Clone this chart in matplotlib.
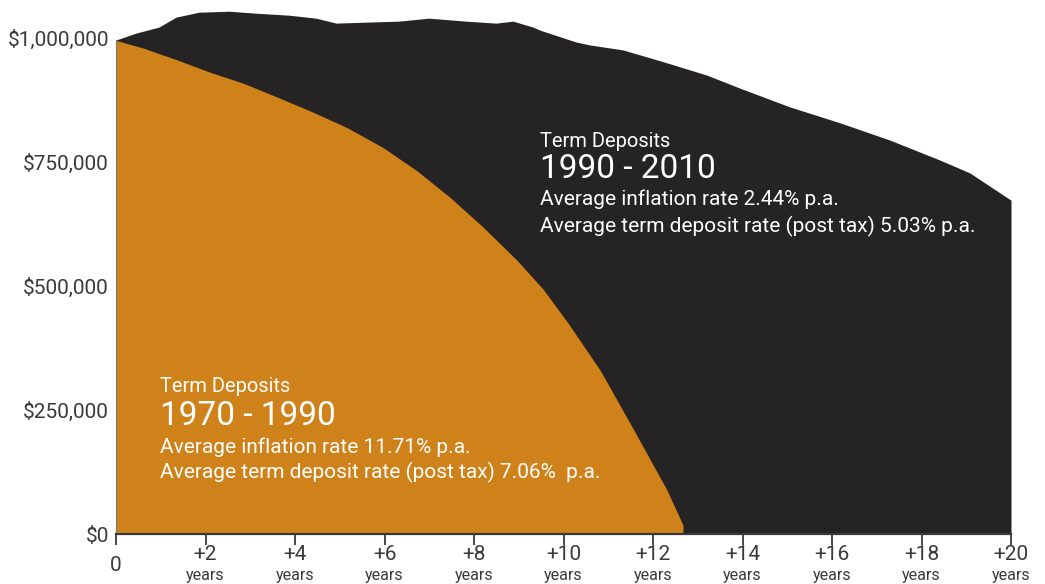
import numpy as np
import matplotlib
matplotlib.use("Agg")
import matplotlib.pyplot as plt

plt.rcParams['font.family'] = ['Roboto', 'DejaVu Sans']

years_7090 = [0, 0.60, 1.36, 2.10, 2.84, 3.60, 4.34, 5.15, 5.97, 6.73, 7.46, 8.20,
              8.96, 9.54, 10.08, 10.82, 11.55, 12.31, 12.67, 12.67]
value_7090 = [995000, 980000, 956000, 931000, 909000, 881000, 853000, 820000, 779000,
              732000, 679000, 619000, 552000, 494000, 428000, 330000, 213000, 89000,
              18000, 0]

# 1990-2010 term deposits
years_9010 = [0, 0.45, 0.96, 1.34, 1.85, 2.53, 3.13, 3.87, 4.47, 4.92, 5.59, 6.32,
              6.99, 7.82, 8.49, 8.87, 9.32, 9.47, 10.28, 10.59, 11.33, 12.31, 13.21,
              13.94, 15.06, 16.18, 17.30, 18.41, 19.08, 20]
value_9010 = [996000, 1010000, 1022000, 1042000, 1052000, 1054000, 1050000, 1046000,
              1040000, 1030000, 1032000, 1034000, 1040000, 1034000, 1030000, 1034000,
              1022000, 1016000, 992000, 986000, 976000, 950000, 925000, 899000,
              861000, 829000, 794000, 754000, 728000, 673000]

y_ticks = [0, 250000, 500000, 750000, 1000000]
y_labels = ['$0', '$250,000', '$500,000', '$750,000', '$1,000,000']
x_ticks = list(range(0, 21, 2))
x_labels = ['0'] + ['+%d' % t for t in x_ticks[1:]]

orange = '#D0821A'
dark = '#252324'
grey = '#3a3a3a'

fig = plt.figure(figsize=(10.45, 5.84), dpi=100)
ax = fig.add_axes([116 / 1045, 50 / 584, 895 / 1045, 530.7 / 584])

ax.fill_between(years_9010, value_9010, 0, color=dark, lw=0)
ax.fill_between(years_7090, value_7090, 0, color=orange, lw=0)

ax.set_xlim(0, 20)
ax.set_ylim(0, 1070000)

for s in ['top', 'right']:
    ax.spines[s].set_visible(False)
ax.spines['left'].set_bounds(0, 995000)
ax.spines['left'].set_color('#777777')
ax.spines['left'].set_linewidth(0.8)
ax.spines['bottom'].set_color(grey)
ax.spines['bottom'].set_linewidth(1.6)

ax.set_yticks(y_ticks)
ax.set_yticklabels(y_labels, fontsize=15, color=grey)
ax.tick_params(axis='y', length=0, pad=5)

ax.set_xticks(x_ticks)
ax.set_xticklabels([])
ax.tick_params(axis='x', direction='out', length=8, width=1.3, color=grey)

# tick labels: "+2" over a small "years"
tr = ax.get_xaxis_transform()
for t, lab in zip(x_ticks, x_labels):
    if t == 0:
        ax.text(t, -0.06, lab, transform=tr, ha='center', va='center',
                fontsize=15, color=grey)
    else:
        ax.text(t, -0.039, lab, transform=tr, ha='center', va='center',
                fontsize=15, color=grey)
        ax.text(t, -0.078, 'years', transform=tr, ha='center', va='center',
                fontsize=11.5, color=grey)

# annotations
def block(x, ys, lines):
    sizes = [14.5, 24, 15, 15]
    for y, txt, fs in zip(ys, lines, sizes):
        ax.text(x, y, txt, color='white', fontsize=fs, va='baseline', ha='left')

block(9.47, [780000, 718000, 663000, 609000],
      ['Term Deposits', '1990 - 2010', 'Average inflation rate 2.44% p.a.',
       'Average term deposit rate (post tax) 5.03% p.a.'])
block(0.98, [286000, 220000, 163000, 113000],
      ['Term Deposits', '1970 - 1990', 'Average inflation rate 11.71% p.a.',
       'Average term deposit rate (post tax) 7.06%  p.a.'])

fig.savefig('out.png', dpi=100)
